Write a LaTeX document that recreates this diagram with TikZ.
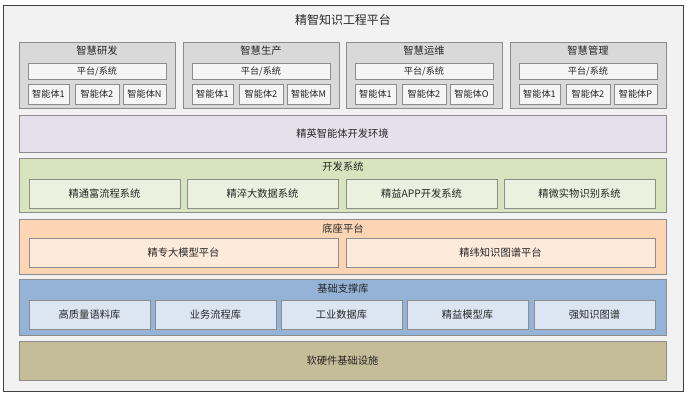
\documentclass[tikz,border=0pt]{standalone}
\usepackage{fontspec}
\setmainfont{Noto Sans CJK SC}
\definecolor{bgc}{HTML}{F2F2F2}
\definecolor{framec}{HTML}{404040}
\definecolor{edgec}{HTML}{8C8C8C}
\definecolor{grpc}{HTML}{D9D9D9}
\definecolor{grpin}{HTML}{F5F5F5}
\definecolor{purc}{HTML}{E6E0EC}
\definecolor{grnc}{HTML}{D7E4BD}
\definecolor{grnin}{HTML}{EBF1DE}
\definecolor{orgc}{HTML}{FCD5B5}
\definecolor{orgin}{HTML}{FDEADA}
\definecolor{bluc}{HTML}{95B3D7}
\definecolor{bluin}{HTML}{DCE6F2}
\definecolor{khac}{HTML}{C4BD97}
\definecolor{txtc}{HTML}{262626}
\newcommand\mkbox[6]{\node[#2, anchor=north west, minimum width=(#5)*1bp-(#3)*1bp, minimum height=(#6)*1bp-(#4)*1bp] (#1) at (#3,#4) {};}
\begin{document}
\begin{tikzpicture}[x=1bp,y=-1bp,
  box/.style={draw=edgec, line width=0.9bp, inner sep=0pt, outer sep=0pt},
  lbl/.style={text=txtc, inner sep=0pt, font=\fontsize{10.3}{12}\selectfont},
  small/.style={text=txtc, inner sep=0pt, font=\fontsize{9.2}{11}\selectfont},
  ttl/.style={text=txtc, inner sep=0pt, font=\fontsize{12}{14}\selectfont}]
\useasboundingbox (0,0) rectangle (688,398);
\mkbox{frame}{draw=framec, line width=1bp, fill=bgc, inner sep=0pt, outer sep=0pt}{3}{5}{683}{391}
\node[ttl] (title) at (343,20) {精智知识工程平台};
% top groups
\foreach \i/\x/\t/\n in {1/19/智慧研发/N, 2/183/智慧生产/M, 3/346/智慧运维/O, 4/510/智慧管理/P}{
  \mkbox{g\i}{box, fill=grpc}{\x}{42}{\x+156}{108}
  \node[lbl] (g\i t) at (\x+78,51) {\t};
  \mkbox{g\i p}{box, fill=grpin}{\x+9}{63}{\x+147}{79}
  \node[small] at (g\i p) {平台/系统};
  \mkbox{g\i a}{box, fill=grpin}{\x+9}{84}{\x+50}{104}
  \node[small] at (g\i a) {智能体1};
  \mkbox{g\i b}{box, fill=grpin}{\x+56}{84}{\x+100}{104}
  \node[small] at (g\i b) {智能体2};
  \mkbox{g\i c}{box, fill=grpin}{\x+104}{84}{\x+147}{104}
  \node[small] at (g\i c) {智能体\n};
}
% agent env
\mkbox{env}{box, fill=purc}{19}{115}{666}{152}
\node[lbl] at (env) {精英智能体开发环境};
% dev system
\mkbox{dev}{box, fill=grnc}{19}{158}{666}{212}
\node[lbl] (devt) at (343,167) {开发系统};
\foreach \i/\x/\t in {1/29/精通富流程系统, 2/187/精淬大数据系统, 3/346/精益APP开发系统, 4/504/精微实物识别系统}{
  \mkbox{d\i}{box, fill=grnin}{\x}{179}{\x+151}{208}
  \node[lbl] at (d\i) {\t};
}
% base platform
\mkbox{base}{box, fill=orgc}{19}{219}{666}{274}
\node[lbl] (baset) at (343,229) {底座平台};
\mkbox{b1}{box, fill=orgin}{29}{238}{338}{267}
\node[lbl] at (b1) {精专大模型平台};
\mkbox{b2}{box, fill=orgin}{346}{238}{655}{267}
\node[lbl] at (b2) {精纬知识图谱平台};
% support library
\mkbox{sup}{box, fill=bluc}{19}{279}{666}{335}
\node[lbl] (supt) at (343,289) {基础支撑库};
\foreach \i/\x/\t in {1/29/高质量语料库, 2/155/业务流程库, 3/281/工业数据库, 4/407/精益模型库, 5/534/强知识图谱}{
  \mkbox{s\i}{box, fill=bluin}{\x}{300}{\x+121}{329}
  \node[lbl] at (s\i) {\t};
}
% infrastructure
\mkbox{infra}{box, fill=khac}{19}{341}{666}{380}
\node[lbl] at (infra) {软硬件基础设施};
\end{tikzpicture}
\end{document}
